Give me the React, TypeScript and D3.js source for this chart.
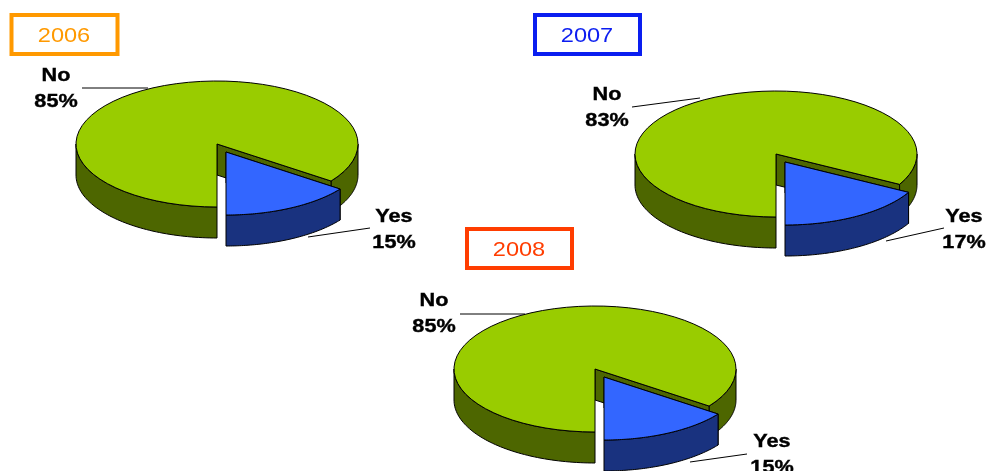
import React from "react";
import * as d3 from "d3";

const years = ["2006", "2007", "2008"];
const yesShare = [15, 17, 15];
const noShare = [85, 83, 85];
const sliceNames = ["Yes", "No"];

const yearColors = ["#FF9900", "#0A1EF0", "#FF3D00"];
const layout = [
  { cx: 217, cy: 144, box: [11.5, 15, 106, 39], noL: [56, 75], yesL: [394, 216], noLine: [82, 88, 148, 88], yesLine: [308, 237, 370, 228] },
  { cx: 776, cy: 154, box: [535, 15, 105, 39], noL: [607, 94], yesL: [964, 216], noLine: [632, 107, 700, 98], yesLine: [886, 241, 944, 228] },
  { cx: 595, cy: 369, box: [467, 229, 105, 39], noL: [434, 300], yesL: [772, 441], noLine: [460, 314, 525, 314], yesLine: [690, 462, 747, 454] },
];

const RX = 141;
const RY = 63;
const DEPTH = 31;
const OFFSET = [9, 8];
const GREEN = "#99CC00";
const DARK_GREEN = "#4D6600";
const BLUE = "#3366FF";
const DARK_BLUE = "#19327F";

type P = [number, number];

function rimPoints(cx: number, cy: number, a0: number, a1: number, dy = 0): P[] {
  const scale = d3.scaleLinear().domain([0, 60]).range([a0, a1]);
  return d3.range(61).map((i) => {
    const a = scale(i);
    return [cx + RX * Math.sin(a), cy - RY * Math.cos(a) + dy] as P;
  });
}
const closed = d3.line<P>().curve(d3.curveLinearClosed);

function wall(cx: number, cy: number, a0: number, a1: number) {
  const top = rimPoints(cx, cy, a0, a1);
  const bottom = rimPoints(cx, cy, a0, a1, DEPTH).reverse();
  return closed([...top, ...bottom]) as string;
}
function sector(cx: number, cy: number, a0: number, a1: number) {
  return closed([[cx, cy], ...rimPoints(cx, cy, a0, a1)]) as string;
}

function Label({ x, y, lines, size, weight, fill, sx, heavy }: { x: number; y: number; lines: string[]; size: number; weight: number; fill: string; sx: number; heavy?: boolean }) {
  return (
    <g transform={`translate(${x},${y}) scale(${sx},1)`} filter="url(#soft)">
      {lines.map((t, i) => (
        <text key={t} y={i * 25.5} textAnchor="middle" dominantBaseline="central" fontFamily="'Liberation Sans', Arial, sans-serif" fontSize={size} fontWeight={weight} fill={fill} stroke={heavy ? fill : "none"} strokeWidth={heavy ? 0.4 : 0}>
          {t}
        </text>
      ))}
    </g>
  );
}

function Pie3D({ index }: { index: number }) {
  const { cx, cy } = layout[index];
  const values = [yesShare[index], noShare[index]];
  const a0 = Math.PI - (2 * Math.PI * values[0]) / d3.sum(values);
  const arcs = d3.pie<number>().sort(null).startAngle(a0).endAngle(a0 + 2 * Math.PI)(values);
  const [yes, no] = arcs;
  const tip: P = [cx + RX * Math.sin(a0), cy - RY * Math.cos(a0)];
  const x2 = cx + OFFSET[0];
  const y2 = cy + OFFSET[1];
  const tip2: P = [x2 + RX * Math.sin(a0), y2 - RY * Math.cos(a0)];
  const st = { stroke: "#000", strokeWidth: 1, strokeLinejoin: "round" as const };
  return (
    <g>
      <path d={wall(cx, cy, Math.PI / 2, a0)} fill={DARK_GREEN} {...st} />
      <path d={wall(cx, cy, no.startAngle, (3 * Math.PI) / 2)} fill={DARK_GREEN} {...st} />
      <path d={closed([[cx, cy], tip, [tip[0], tip[1] + DEPTH], [cx, cy + DEPTH]]) as string} fill={DARK_GREEN} {...st} />
      <path d={sector(cx, cy, no.startAngle, no.endAngle)} fill={GREEN} {...st} />
      <path d={closed([[x2, y2], tip2, [tip2[0], tip2[1] + DEPTH], [x2, y2 + DEPTH]]) as string} fill={DARK_BLUE} {...st} />
      <path d={wall(x2, y2, yes.startAngle, yes.endAngle)} fill={DARK_BLUE} {...st} />
      <path d={sector(x2, y2, yes.startAngle, yes.endAngle)} fill={BLUE} {...st} />
    </g>
  );
}

export default function App() {
  return (
    <svg width={989} height={471} style={{ position: "fixed", left: 0, top: 0, background: "#fff" }}>
      <defs>
        <filter id="soft" x="-20%" y="-20%" width="140%" height="140%">
          <feGaussianBlur stdDeviation="0.35" />
        </filter>
      </defs>
      {years.map((year, i) => {
        const l = layout[i];
        return (
          <g key={year}>
            <rect x={l.box[0]} y={l.box[1]} width={l.box[2]} height={l.box[3]} fill="#fff" stroke={yearColors[i]} strokeWidth={4} />
            <Label x={l.box[0] + l.box[2] / 2 - 0.5} y={l.box[1] + l.box[3] / 2 + 0.5} lines={[year]} size={20} weight={400} fill={yearColors[i]} sx={1.18} />
            <line x1={l.noLine[0]} y1={l.noLine[1]} x2={l.noLine[2]} y2={l.noLine[3]} stroke="#000" strokeWidth={1} />
            <line x1={l.yesLine[0]} y1={l.yesLine[1]} x2={l.yesLine[2]} y2={l.yesLine[3]} stroke="#000" strokeWidth={1} />
            <Pie3D index={i} />
            <Label x={l.noL[0]} y={l.noL[1]} lines={[sliceNames[1], `${noShare[i]}%`]} size={18.5} weight={700} fill="#000" sx={1.17} heavy />
            <Label x={l.yesL[0]} y={l.yesL[1]} lines={[sliceNames[0], `${yesShare[i]}%`]} size={18.5} weight={700} fill="#000" sx={1.17} heavy />
          </g>
        );
      })}
    </svg>
  );
}
